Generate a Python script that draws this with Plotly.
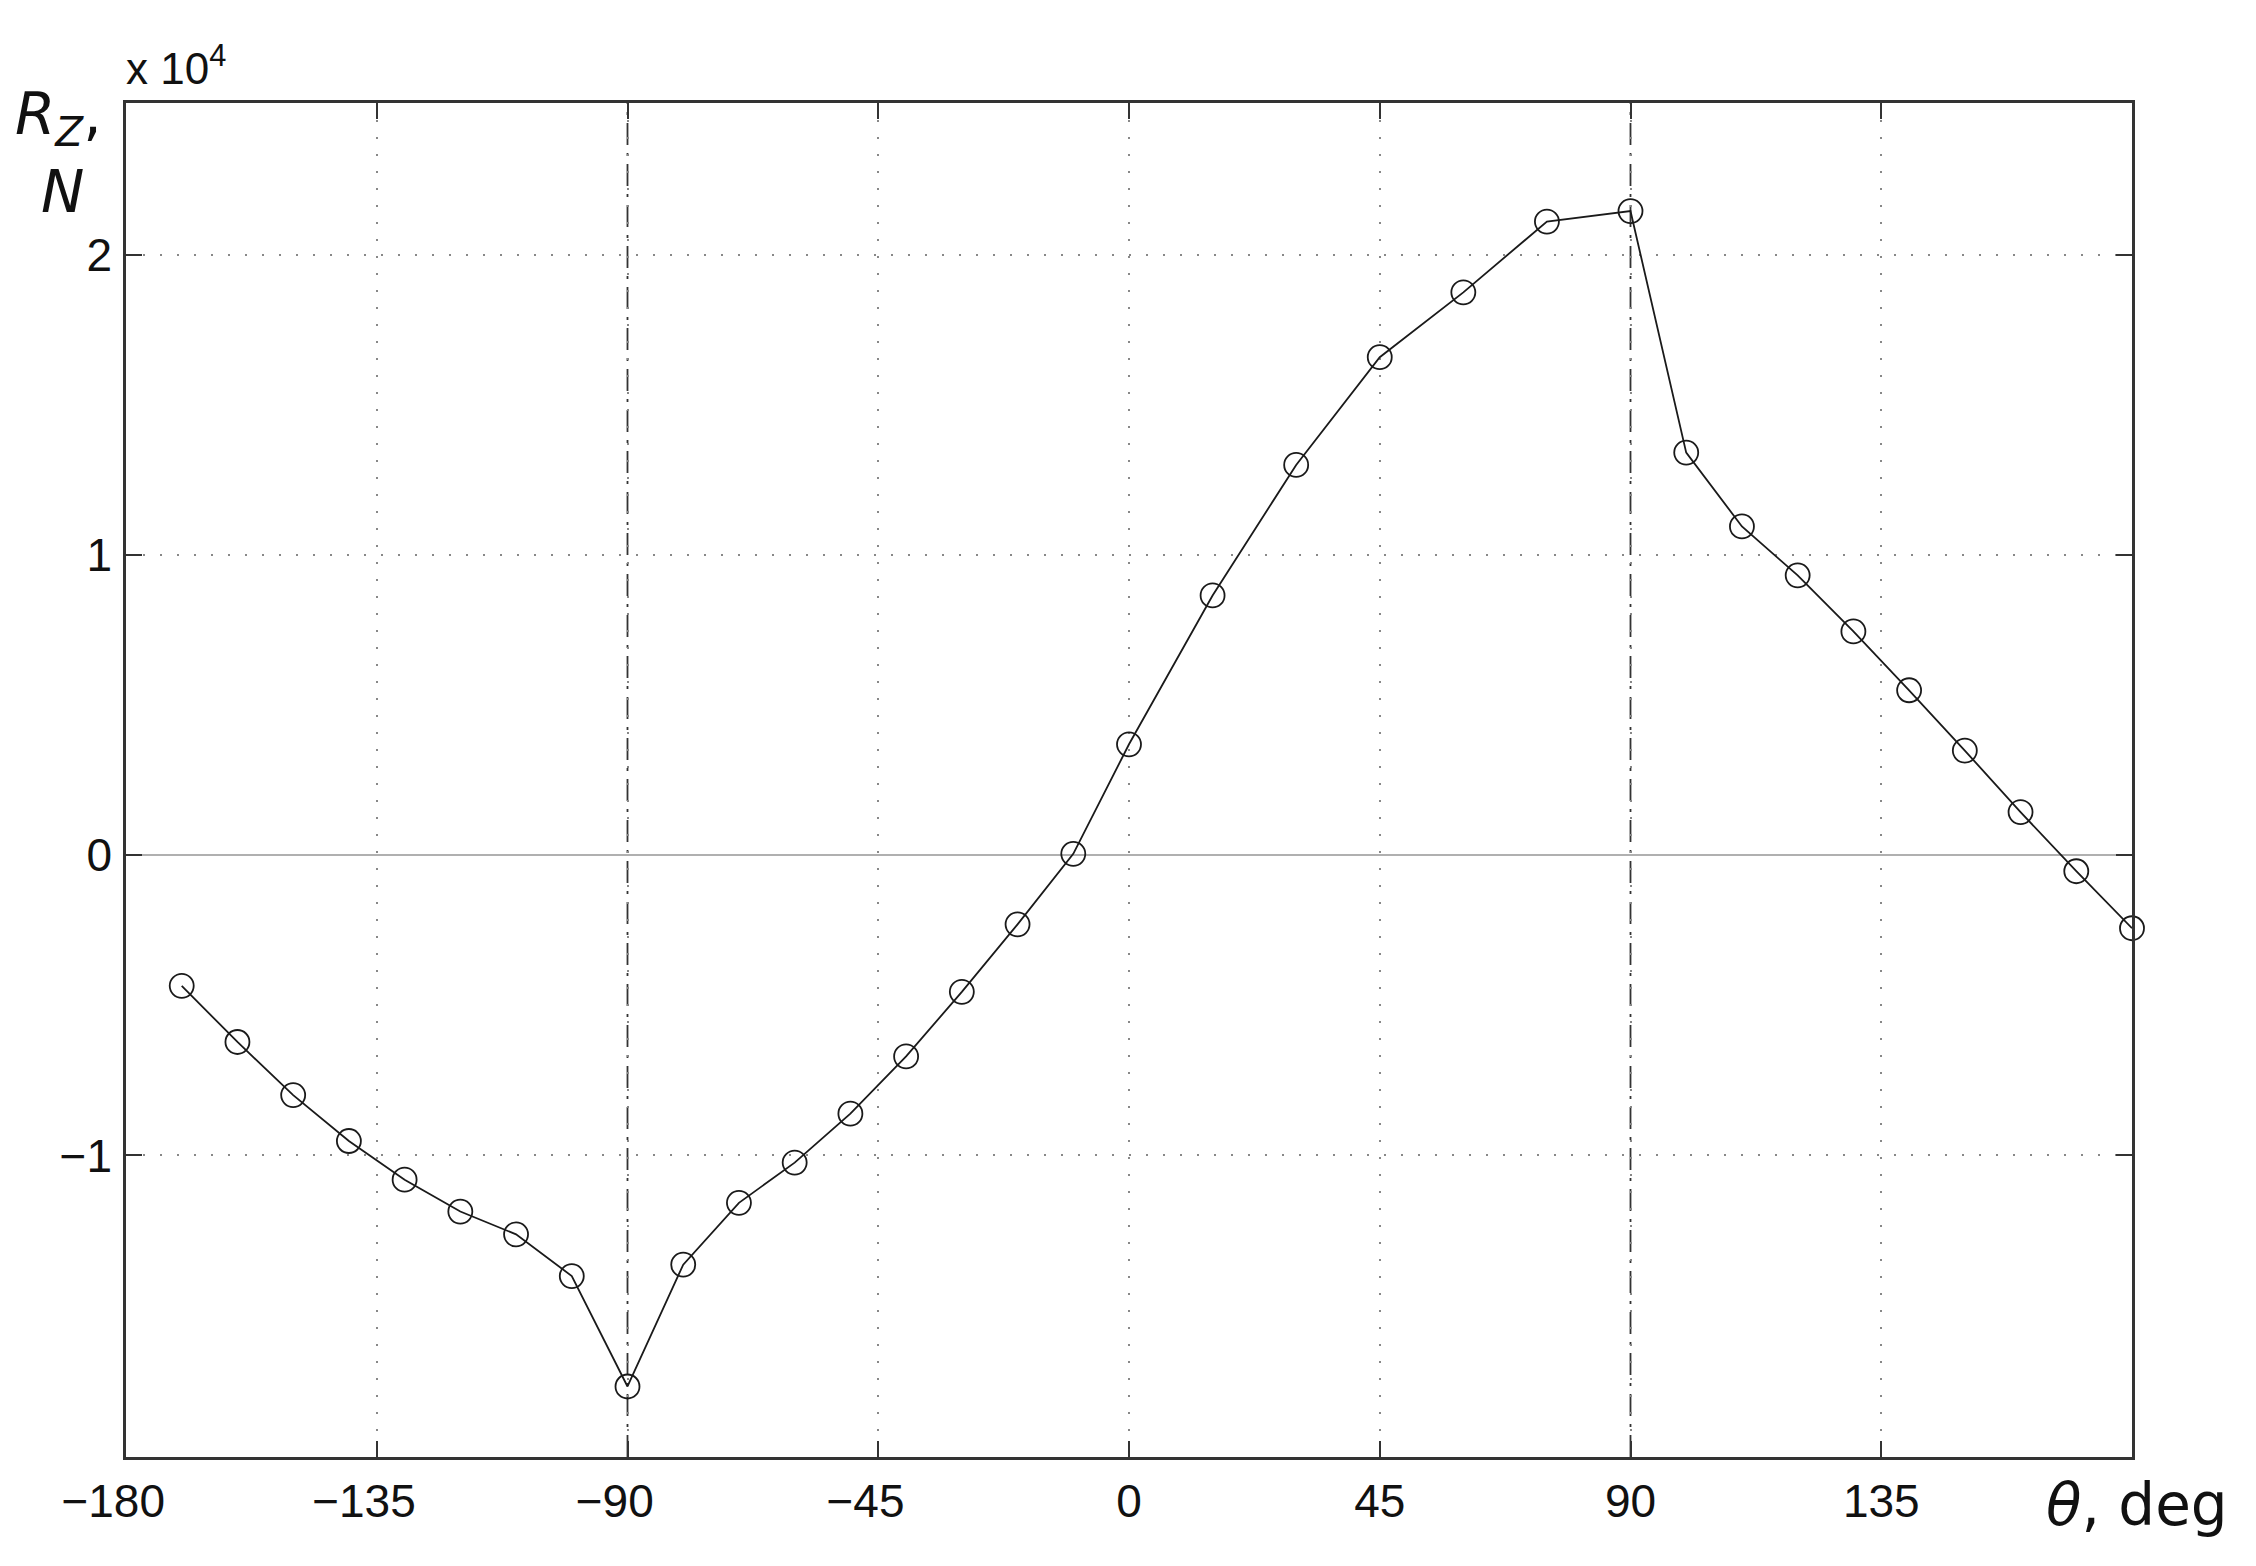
import plotly.graph_objects as go

# angle theta, deg
theta = [-170, -160, -150, -140, -130, -120, -110, -100, -90,
         -80, -70, -60, -50, -40, -30, -20, -10, 0,
         15, 30, 45, 60, 75, 90,
         100, 110, 120, 130, 140, 150, 160, 170, 180]

# reaction force R_Z, N
rz = [-4350, -6220, -7990, -9520, -10810, -11870, -12630, -14020, -17700,
      -13640, -11580, -10240, -8610, -6700, -4550, -2300, 50, 3700,
      8660, 13010, 16600, 18760, 21120, 21470,
      13420, 10960, 9330, 7460, 5500, 3490, 1440, -530, -2430]

x_ticks = [-180, -135, -90, -45, 0, 45, 90, 135, 180]
x_labels = ["\u2212180", "\u2212135", "\u221290", "\u221245", "0", "45", "90", "135", ""]
y_ticks = [-10000, 0, 10000, 20000]
y_labels = ["\u22121", "0", "1", "2"]
special_lines = [-90, 90]

# page body has an 8px margin, so the figure is drawn 8px in from the corner
PAGE = 8
W, H = 2256, 1566
L, R, T, B = 126, 2132, 103, 1457   # plot box in screenshot pixels


def px(xp):
    return (xp - L) / (R - L)


def py(yp):
    return (B - yp) / (B - T)


# negative labels sit a little left of their ticks in the original
x_text = [t + "\u00a0\u00a0" if t.startswith("\u2212") else t for t in x_labels]

fig = go.Figure()

fig.add_trace(go.Scatter(
    x=theta, y=rz, mode="lines+markers",
    line=dict(color="#1a1a1a", width=1.8),
    marker=dict(symbol="circle-open", size=24, color="#1a1a1a",
                line=dict(width=1.8, color="#1a1a1a")),
    showlegend=False, cliponaxis=False,
))

for v in special_lines:
    fig.add_shape(type="line", x0=v, x1=v, y0=0, y1=1, xref="x", yref="paper",
                  line=dict(color="#333333", width=1.8, dash="22px,8px,3px,8px"),
                  layer="below")

fig.update_xaxes(
    range=[-180, 180], tickvals=x_ticks, ticktext=x_text,
    showgrid=True, gridcolor="#888888", gridwidth=1.5, griddash="2px,15px",
    zeroline=False, automargin=False,
    showline=True, linecolor="#333333", linewidth=2.5, mirror="allticks",
    ticks="inside", ticklen=16, tickwidth=2, tickcolor="#333333",
    tickfont=dict(family="Liberation Sans", size=46, color="#111111"),
    ticklabelstandoff=2,
)
fig.update_yaxes(
    range=[-20050, 25070], tickvals=y_ticks, ticktext=y_labels,
    showgrid=True, gridcolor="#888888", gridwidth=1.5, griddash="2px,15px",
    zeroline=True, zerolinecolor="#b0b0b0", zerolinewidth=1.5,
    automargin=False,
    showline=True, linecolor="#333333", linewidth=2.5, mirror="allticks",
    ticks="inside", ticklen=16, tickwidth=2, tickcolor="#333333",
    tickfont=dict(family="Liberation Sans", size=46, color="#111111"),
    ticklabelstandoff=2,
)

# multiplier above the y axis
fig.add_annotation(x=px(124), y=py(66), xref="paper", yref="paper",
                   xanchor="left", yanchor="middle", showarrow=False,
                   text="x 10<sup>4</sup>",
                   font=dict(family="Liberation Sans", size=44, color="#111111"))
# y axis label
fig.add_annotation(x=px(58), y=py(118), xref="paper", yref="paper",
                   xanchor="center", yanchor="middle", showarrow=False,
                   text="<i>R</i><sub><i>Z</i></sub>,",
                   font=dict(family="DejaVu Sans", size=58, color="#111111"))
fig.add_annotation(x=px(62), y=py(192), xref="paper", yref="paper",
                   xanchor="center", yanchor="middle", showarrow=False,
                   text="<i>N</i>",
                   font=dict(family="DejaVu Sans", size=58, color="#111111"))
# x axis label
fig.add_annotation(x=px(2137), y=py(1505), xref="paper", yref="paper",
                   xanchor="center", yanchor="middle", showarrow=False,
                   text="<i>\u03b8</i>, deg",
                   font=dict(family="DejaVu Sans", size=58, color="#111111"))

fig.update_layout(
    width=W - PAGE, height=H - PAGE,
    margin=dict(l=L - PAGE, r=W - R, t=T - PAGE, b=H - B),
    paper_bgcolor="white", plot_bgcolor="white",
)

fig.write_html("out.html")
